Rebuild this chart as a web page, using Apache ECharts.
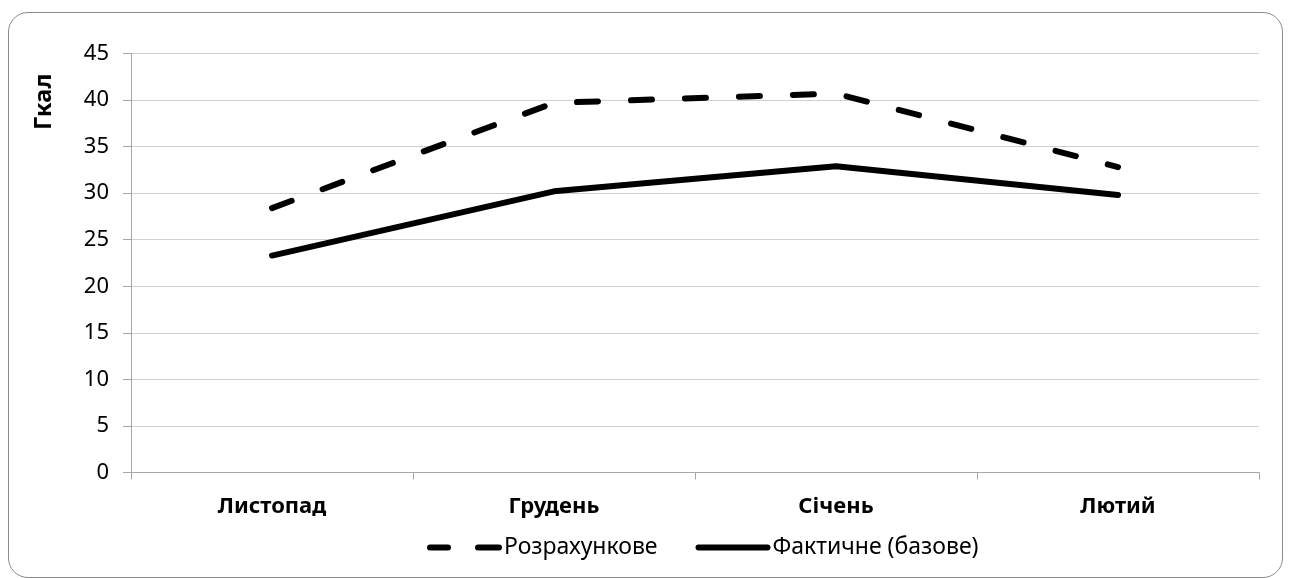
<!DOCTYPE html>
<html><head><meta charset="utf-8">
<script src="https://cdn.jsdelivr.net/npm/echarts@6/dist/echarts.min.js"></script>
<style>html,body{margin:0;padding:0;background:#fff}
#frame{position:absolute;left:8px;top:12px;width:1275px;height:566px;border:1.5px solid #8c8c8c;border-radius:20px;box-sizing:border-box}
#c{position:absolute;left:0;top:0;width:1290px;height:578px}</style>
</head><body><div id="frame"></div><div id="c"></div>
<script>
const categories = ['Листопад', 'Грудень', 'Січень', 'Лютий'];
const calculated = [28.4, 39.7, 40.7, 32.8];
const actual = [23.3, 30.2, 32.9, 29.8];
const seriesNames = ['Розрахункове', 'Фактичне (базове)'];
const yTicks = { min: 0, max: 45, interval: 5 };
const yTitle = 'Гкал';

const font = '"Noto Sans", sans-serif';
const dashedIcon = 'path://M3,0 h18 a3,3 0 0 1 0,6 h-18 a3,3 0 0 1 0,-6 Z M51,0 h21 a3,3 0 0 1 0,6 h-21 a3,3 0 0 1 0,-6 Z';
const solidIcon = 'path://M3,0 h69 a3,3 0 0 1 0,6 h-69 a3,3 0 0 1 0,-6 Z';
const chart = echarts.init(document.getElementById('c'), null, { renderer: 'canvas' });
chart.setOption({
  animation: false,
  backgroundColor: 'transparent',
  grid: { left: 131, right: 31, top: 53.5, bottom: 105.5 },
  xAxis: {
    type: 'category', data: categories, boundaryGap: true,
    axisLine: { lineStyle: { color: '#a6a6a6', width: 1 } },
    axisTick: { show: true, length: 7, lineStyle: { color: '#a6a6a6' } },
    axisLabel: { color: '#000', fontFamily: font, fontSize: 22, fontWeight: 'bold', margin: 23 }
  },
  yAxis: {
    type: 'value', min: yTicks.min, max: yTicks.max, interval: yTicks.interval,
    axisLine: { show: true, lineStyle: { color: '#a6a6a6', width: 1 } },
    axisTick: { show: true, length: 8, lineStyle: { color: '#a6a6a6' } },
    splitLine: { lineStyle: { color: '#d0d0d0', width: 1 } },
    axisLabel: { color: '#000', fontFamily: font, fontSize: 22, margin: 22 }
  },
  legend: {
    bottom: 14, left: 422,
    itemWidth: 75, itemHeight: 6, itemGap: 38,
    textStyle: { color: '#000', fontFamily: font, fontSize: 23, padding: [0, 0, 0, -3] },
    data: [
      { name: seriesNames[0], icon: dashedIcon, itemStyle: { color: '#000' } },
      { name: seriesNames[1], icon: solidIcon, itemStyle: { color: '#000' } }
    ]
  },
  graphic: [{
    type: 'text', x: 32, y: 130, rotation: Math.PI / 2,
    style: { text: yTitle, fill: '#000', font: 'bold 24px ' + font, textAlign: 'left', textVerticalAlign: 'top' }
  }],
  series: [
    {
      name: seriesNames[0], type: 'line', data: calculated, symbol: 'none',
      lineStyle: { color: '#000', width: 6, type: [21, 33], cap: 'round', join: 'round' },
      itemStyle: { color: '#000' }
    },
    {
      name: seriesNames[1], type: 'line', data: actual, symbol: 'none',
      lineStyle: { color: '#000', width: 6, type: 'solid', cap: 'round', join: 'round' },
      itemStyle: { color: '#000' }
    }
  ]
});
</script></body></html>
